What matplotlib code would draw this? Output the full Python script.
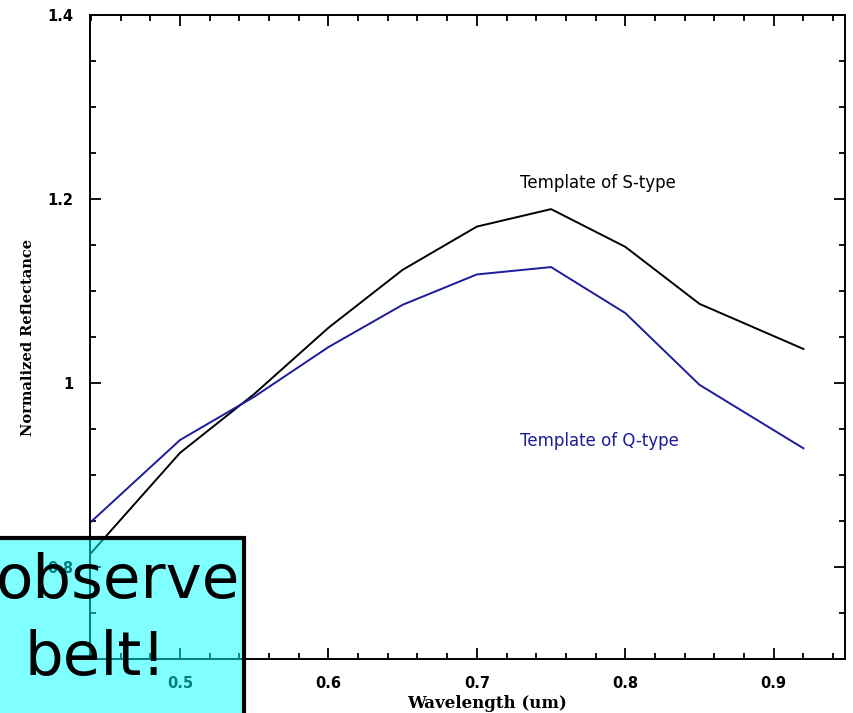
import matplotlib.pyplot as plt
from matplotlib.patches import Rectangle
from matplotlib.ticker import MultipleLocator, FormatStrFormatter

# datos
longitud = [0.44, 0.50, 0.55, 0.60, 0.65, 0.70, 0.75, 0.80, 0.85, 0.92]
tipo_s = [0.815, 0.924, 0.988, 1.060, 1.123, 1.170, 1.189, 1.148, 1.086, 1.037]
tipo_q = [0.849, 0.938, 0.985, 1.039, 1.085, 1.118, 1.126, 1.076, 0.998, 0.929]

etiqueta_s = 'Template of S-type'
etiqueta_q = 'Template of Q-type'
azul = '#1c1c9c'

fig = plt.figure(figsize=(8.54, 7.13), dpi=100)
ax = fig.add_axes([90/854, 54/713, 755/854, 644/713])

ax.plot(longitud, tipo_s, color='black', lw=1.4)
ax.plot(longitud, tipo_q, color=azul, lw=1.4)

ax.text(0.729, 1.217, etiqueta_s, color='black', fontsize=12, va='center')
ax.text(0.729, 0.937, etiqueta_q, color=azul, fontsize=12, va='center')

ax.set_xlim(0.4394, 0.948)
ax.set_ylim(0.7, 1.4)
ax.xaxis.set_major_locator(MultipleLocator(0.1))
ax.xaxis.set_minor_locator(MultipleLocator(0.02))
ax.yaxis.set_major_locator(MultipleLocator(0.2))
ax.yaxis.set_minor_locator(MultipleLocator(0.05))
ax.xaxis.set_major_formatter(FormatStrFormatter('%g'))
ax.yaxis.set_major_formatter(FormatStrFormatter('%g'))
ax.tick_params(which='both', direction='in', top=True, right=True, width=1.3)
ax.tick_params(which='major', length=8, pad=12, labelsize=10.5)
ax.tick_params(which='minor', length=4.5)
for lab in ax.get_xticklabels() + ax.get_yticklabels():
    lab.set_fontweight('bold')
for sp in ax.spines.values():
    sp.set_linewidth(1.4)

fig.text(487/854, 10/713, 'Wavelength (um)', family='DejaVu Serif',
         fontweight='bold', fontsize=12, ha='center', va='center')
fig.text(28/854, (713-337)/713, 'Normalized Reflectance', family='DejaVu Serif',
         fontweight='bold', fontsize=10.5, rotation=90, ha='center', va='center')

# recuadro cian encima de la grafica
caja = Rectangle((-20/854, -20/713), 264/854, (713-538+20)/713,
                 transform=fig.transFigure, facecolor='cyan', alpha=0.5,
                 edgecolor='none', zorder=10)
borde = Rectangle((-20/854, -20/713), 264/854, (713-538+20)/713,
                  transform=fig.transFigure, facecolor='none',
                  edgecolor='black', lw=3, zorder=11)
fig.patches.append(caja)
fig.patches.append(borde)
t1 = fig.text(-4/854, (713-598)/713, 'observe', fontsize=44, ha='left',
              va='baseline', zorder=12)
t2 = fig.text(25/854, (713-675)/713, 'belt!', fontsize=44, ha='left',
              va='baseline', zorder=12)
t1.set_clip_path(caja)
t2.set_clip_path(caja)

fig.savefig('out.png', dpi=100)
